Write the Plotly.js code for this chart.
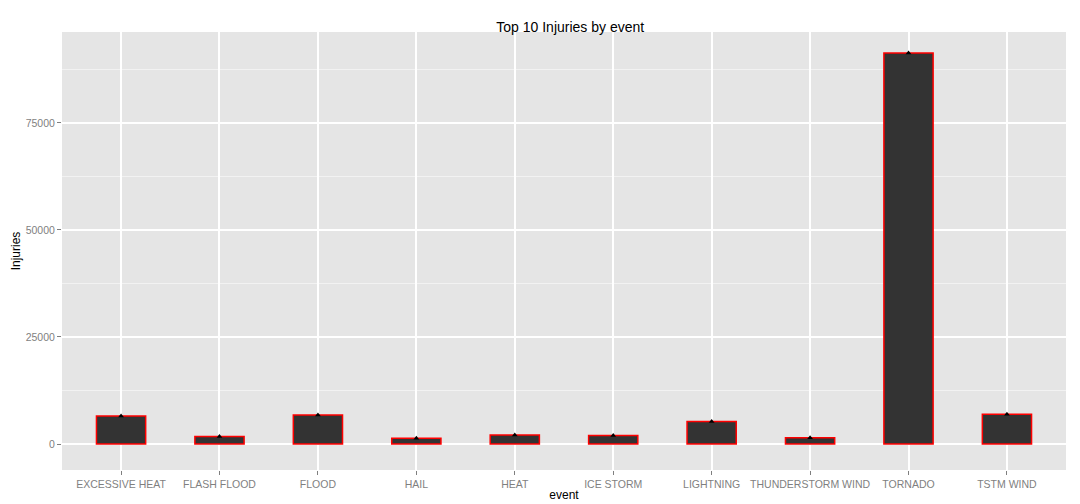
<!DOCTYPE html>
<html><head><script src="https://cdn.plot.ly/plotly-3.0.1.min.js"></script>
<style>body{margin:0}</style></head><body>
<div id="chart" style="width:1080px;height:504px"></div>
<script>
var events = ['EXCESSIVE HEAT','FLASH FLOOD','FLOOD','HAIL','HEAT','ICE STORM','LIGHTNING','THUNDERSTORM WIND','TORNADO','TSTM WIND']
var injuries = [6525, 1777, 6789, 1361, 2100, 1975, 5230, 1488, 91346, 6957]

var bars = {
    type: 'bar', x: events, y: injuries, width: 0.5,
    marker: {color: '#333333', line: {color: '#FF0000', width: 1.5}},
    hoverinfo: 'x+y'
}
var pts = {
    type: 'scatter', mode: 'markers', x: events, y: injuries,
    marker: {color: 'black', size: 5, symbol: 'triangle-up'},
    hoverinfo: 'skip'
}
var layout = {
    width: 1080, height: 504, showlegend: false,
    paper_bgcolor: 'white', plot_bgcolor: '#E5E5E5',
    margin: {l: 62, r: 14, t: 32, b: 34},
    font: {family: 'Arial, Liberation Sans, sans-serif', size: 11, color: 'black'},
    title: {text: 'Top 10 Injuries by event', x: 0.528, y: 0.955, font: {size: 14}},
    xaxis: {
        range: [-0.6, 9.6], showgrid: true, gridcolor: 'white', gridwidth: 1.5,
        ticks: 'outside', ticklen: 4, tickcolor: '#7F7F7F', tickfont: {color: '#7F7F7F', size: 10.5},
        zeroline: false, title: {text: 'event', standoff: 2, font: {size: 12}}
    },
    yaxis: {
        range: [-6075, 96250], tickvals: [0, 25000, 50000, 75000], ticktext: ['0','25000','50000','75000'],
        showgrid: true, gridcolor: 'white', gridwidth: 1.5, zeroline: false,
        minor: {tickvals: [12500, 37500, 62500, 87500], showgrid: true, gridcolor: '#F2F2F2', gridwidth: 0.8},
        ticks: 'outside', ticklen: 4, tickcolor: '#7F7F7F', tickfont: {color: '#7F7F7F', size: 10.5},
        title: {text: 'Injuries', standoff: 2, font: {size: 12}}
    }
}
Plotly.newPlot('chart', [bars, pts], layout, {displayModeBar: false})
</script></body></html>
